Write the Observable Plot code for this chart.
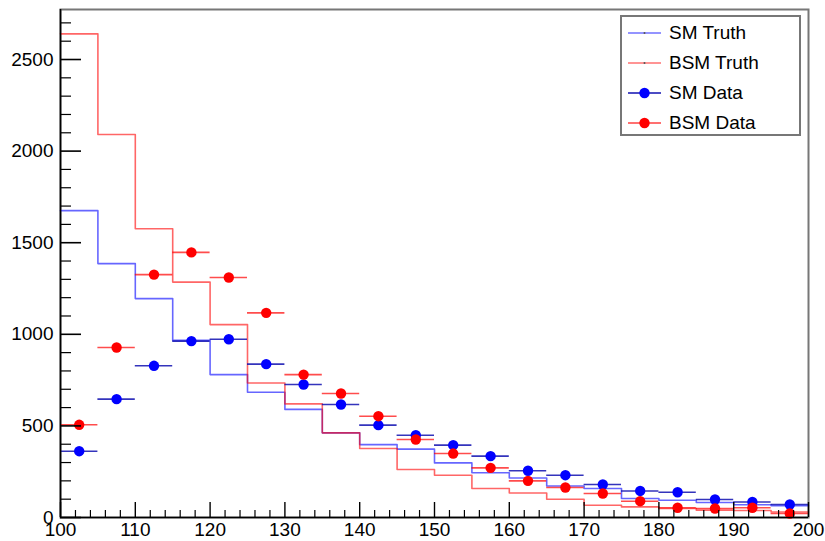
<!DOCTYPE html>
<html>
<head>
<meta charset="utf-8">
<script src="https://cdn.jsdelivr.net/npm/d3@7"></script>
<script src="https://cdn.jsdelivr.net/npm/@observablehq/plot@0.6"></script>
<style>
  html, body { margin: 0; padding: 0; background: #fff; }
  #wrap { position: relative; width: 825px; height: 541px; font-family: "Liberation Sans", Arial, sans-serif; }
  #legend { position: absolute; left: 620px; top: 15px; width: 181px; height: 121px; border: 2px solid #777; background: #fff; box-sizing: border-box; }
  .entry { position: absolute; left: 6px; height: 30px; display: flex; align-items: center; font-size: 19px; color: #000; }
  .entry svg { margin-right: 8px; }
</style>
</head>
<body>
<div id="wrap">
  <div id="chart"></div>
  <div id="legend"></div>
</div>
<script>
// Bin lower edges (GeV) and bin width
const binLow = [100, 105, 110, 115, 120, 125, 130, 135, 140, 145, 150, 155, 160, 165, 170, 175, 180, 185, 190, 195];
const binWidth = 5;

// Histogram contents
const smTruth  = [1675, 1386, 1195, 967, 780, 684, 590, 462, 398, 373, 298, 244, 216, 172, 158, 104, 94, 82, 70, 64];
const bsmTruth = [2640, 2091, 1576, 1285, 1053, 734, 620, 462, 377, 262, 231, 158, 134, 100, 67, 58, 49, 40, 38, 30];
const smData   = [362, 646, 828, 963, 973, 837, 726, 617, 504, 449, 395, 335, 255, 231, 180, 145, 138, 98, 85, 71];
const bsmData  = [506, 928, 1326, 1447, 1310, 1117, 780, 677, 553, 426, 349, 271, 200, 164, 131, 89, 53, 49, 53, 22];

// Axis ticks
const xMajor = [100, 110, 120, 130, 140, 150, 160, 170, 180, 190, 200];
const xMinor = d3.range(100, 201, 2).filter(v => v % 10 !== 0);
const yMajor = [0, 500, 1000, 1500, 2000, 2500];
const yMinor = d3.range(0, 2701, 100).filter(v => v % 500 !== 0);

const xMax = binLow[binLow.length - 1] + binWidth;
const yMax = 2773;

function stepPoints(vals) {
  const pts = binLow.map((x, i) => ({x, v: vals[i]}));
  pts.push({x: xMax, v: vals[vals.length - 1]});
  return pts;
}
function dataPoints(vals) {
  return binLow.map((x, i) => ({lo: x, hi: x + binWidth, c: x + binWidth / 2, v: vals[i]}));
}

const BLUE = "#0000ff", RED = "#ff0000";

const chart = Plot.plot({
  width: 825,
  height: 541,
  marginLeft: 60,
  marginRight: 17,
  marginTop: 9,
  marginBottom: 24,
  style: {fontFamily: "'Liberation Sans', Arial, sans-serif", background: "#fff", color: "#000"},
  x: {domain: [binLow[0], xMax], label: null},
  y: {domain: [0, yMax], label: null},
  marks: [
    Plot.frame({stroke: "#777", strokeWidth: 2}),
    // step histograms (truth)
    Plot.line(stepPoints(smTruth), {x: "x", y: "v", curve: "step-after", stroke: BLUE, strokeOpacity: 0.6, strokeWidth: 1.6}),
    Plot.line(stepPoints(bsmTruth), {x: "x", y: "v", curve: "step-after", stroke: RED, strokeOpacity: 0.6, strokeWidth: 1.6}),
    // SM data
    Plot.ruleY(dataPoints(smData), {y: "v", x1: "lo", x2: "hi", stroke: "#1010b0", strokeOpacity: 0.85, strokeWidth: 1.6}),
    Plot.dot(dataPoints(smData), {x: "c", y: "v", r: 5.2, fill: BLUE, stroke: "none"}),
    // BSM data
    Plot.ruleY(dataPoints(bsmData), {y: "v", x1: "lo", x2: "hi", stroke: RED, strokeOpacity: 0.7, strokeWidth: 1.6}),
    Plot.dot(dataPoints(bsmData), {x: "c", y: "v", r: 5.2, fill: RED, stroke: "none"}),
    // axis lines
    Plot.ruleX([binLow[0]], {stroke: "#000", strokeWidth: 1.6}),
    Plot.ruleY([0], {stroke: "#000", strokeWidth: 1.6}),
    // inward ticks
    Plot.axisY(yMajor, {anchor: "left", tickSize: -21, text: null, label: null, stroke: "#000", strokeWidth: 1.6}),
    Plot.axisY(yMinor, {anchor: "left", tickSize: -11, text: null, label: null, stroke: "#000", strokeWidth: 1.2}),
    Plot.axisY(yMajor, {anchor: "left", tickSize: 0, tickPadding: 7, fontSize: 19, label: null, tickFormat: d => String(d)}),
    Plot.axisX(xMajor, {anchor: "bottom", tickSize: -15, text: null, label: null, stroke: "#000", strokeWidth: 1.4}),
    Plot.axisX(xMinor, {anchor: "bottom", tickSize: -7, text: null, label: null, stroke: "#000", strokeWidth: 1.2}),
    Plot.axisX(xMajor, {anchor: "bottom", tickSize: 0, tickPadding: 5, fontSize: 19, label: null, tickFormat: d => String(d)})
  ]
});
document.getElementById("chart").appendChild(chart);

// Legend
const legendItems = [
  {label: "SM Truth", line: "#7070ff", dot: false, lw: 1.5},
  {label: "BSM Truth", line: "#ff7070", dot: false, lw: 1.5},
  {label: "SM Data", line: "#1010b0", dot: BLUE, lw: 1.6},
  {label: "BSM Data", line: "#ff4040", dot: RED, lw: 1.6}
];
const legend = document.getElementById("legend");
legendItems.forEach((it, i) => {
  const div = document.createElement("div");
  div.className = "entry";
  div.style.top = (1 + i * 30) + "px";
  const sw = it.dot
    ? `<svg width="33" height="14"><line x1="0" y1="7" x2="33" y2="7" stroke="${it.line}" stroke-width="${it.lw}"/><circle cx="16.5" cy="7" r="5.2" fill="${it.dot}"/></svg>`
    : `<svg width="33" height="14"><line x1="0" y1="7" x2="33" y2="7" stroke="${it.line}" stroke-width="${it.lw}"/><circle cx="16.5" cy="7" r="1" fill="#555"/></svg>`;
  div.innerHTML = sw + `<span>${it.label}</span>`;
  legend.appendChild(div);
});
</script>
</body>
</html>
